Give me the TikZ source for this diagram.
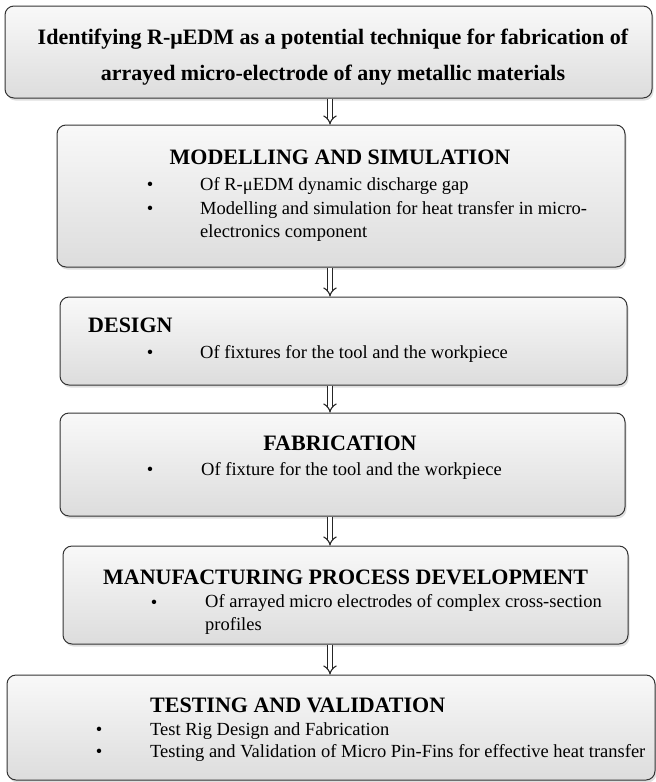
\documentclass[tikz,border=0pt]{standalone}
\usepackage{fontspec}
\setmainfont{Liberation Serif}
\usetikzlibrary{positioning, arrows.meta, shadows}

\begin{document}
\begin{tikzpicture}[
    x=1pt, y=-1pt,
    stage/.style={draw=black!80, line width=1pt, rounded corners=9pt, inner sep=0pt,
        top color=gray!5, bottom color=gray!27,
        drop shadow={shadow xshift=1.5pt, shadow yshift=-2.5pt, opacity=0.25, fill=gray}},
    head/.style={font=\fontsize{22}{36}\selectfont\bfseries, inner sep=0pt},
    body/.style={font=\fontsize{18.5}{23}\selectfont, inner sep=0pt, align=left},
    flow/.style={draw=black!85, double=white, double distance=3.6pt, line width=1.1pt,
        -{Implies[scale=1.8]}}
]
    \useasboundingbox (0,0) rectangle (656,782);

    % stages, top to bottom
    \node[stage, minimum width=647pt, minimum height=92pt]  (ident)  at (328.5,52) {};
    \node[stage, minimum width=568pt, minimum height=142pt] (model)  at (341,196) {};
    \node[stage, minimum width=567pt, minimum height=88pt]  (design) at (343.5,341) {};
    \node[stage, minimum width=565pt, minimum height=103pt] (fab)    at (342.5,464.5) {};
    \node[stage, minimum width=565pt, minimum height=98pt]  (mfg)    at (345.5,595) {};
    \node[stage, minimum width=648pt, minimum height=105pt] (test)   at (331,727.5) {};

    % texts (multi-line nodes sit on the baseline of their last line)
    \node[head, align=center, anchor=base] (identt) at (333,80)
        {Identifying R-μEDM as a potential technique for fabrication of\\
         arrayed micro-electrode of any metallic materials};

    \node[head, anchor=base] (modelh) at (340,164) {MODELLING AND SIMULATION};
    \node[body, anchor=base] at (150,190) {\textbullet};
    \node[body, anchor=base west] (model1) at (200,190) {Of R-μEDM dynamic discharge gap};
    \node[body, anchor=base] at (150,214) {\textbullet};
    \node[body, anchor=base west] (model2) at (200,237)
        {Modelling and simulation for heat transfer in micro-\\electronics component};

    \node[head, anchor=base west] (designh) at (88,332) {DESIGN};
    \node[body, anchor=base] at (150,358) {\textbullet};
    \node[body, anchor=base west] (design1) at (200,358) {Of fixtures for the tool and the workpiece};

    \node[head, anchor=base] (fabh) at (340,450) {FABRICATION};
    \node[body, anchor=base] at (150,475) {\textbullet};
    \node[body, anchor=base west] (fab1) at (201,475) {Of fixture for the tool and the workpiece};

    \node[head, anchor=base west] (mfgh) at (103,584) {MANUFACTURING PROCESS DEVELOPMENT};
    \node[body, anchor=base] at (154,608) {\textbullet};
    \node[body, anchor=base west] (mfg1) at (205,630)
        {Of arrayed micro electrodes of complex cross-section\\profiles};

    \node[head, anchor=base west] (testh) at (150,712) {TESTING AND VALIDATION};
    \node[body, anchor=base] at (99,735) {\textbullet};
    \node[body, anchor=base west] (test1) at (150,735) {Test Rig Design and Fabrication};
    \node[body, anchor=base] at (99,757) {\textbullet};
    \node[body, anchor=base west] (test2) at (150,757)
        {Testing and Validation of Micro Pin-Fins for effective heat transfer};

    % arrows between stages
    \coordinate (ax) at (330,0);
    \draw[flow] (ident.south -| ax) -- (model.north -| ax);
    \draw[flow] (model.south -| ax) -- (design.north -| ax);
    \draw[flow] (design.south -| ax) -- (fab.north -| ax);
    \draw[flow] (fab.south -| ax) -- (mfg.north -| ax);
    \draw[flow] (mfg.south -| ax) -- (test.north -| ax);
\end{tikzpicture}
\end{document}
